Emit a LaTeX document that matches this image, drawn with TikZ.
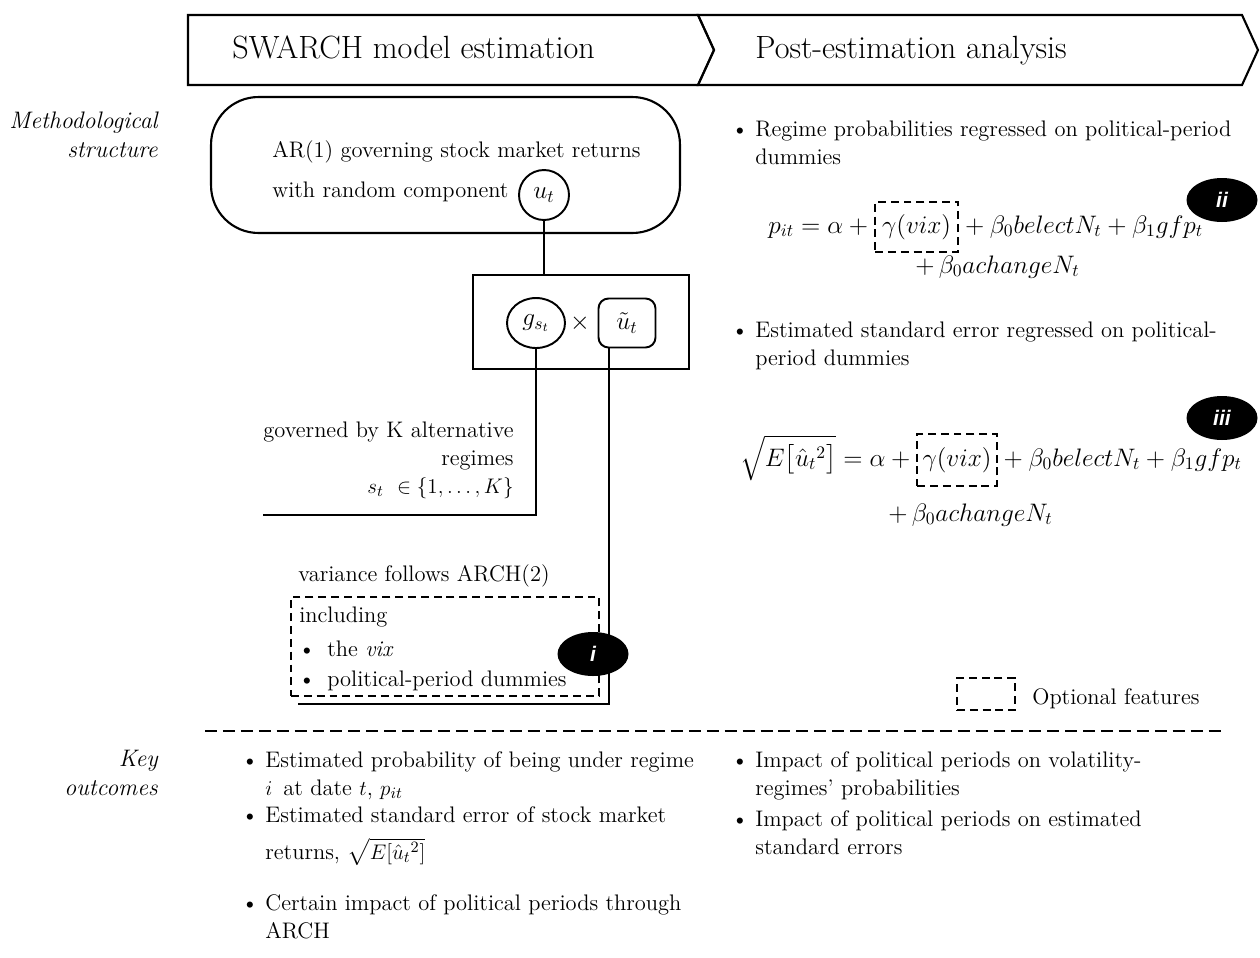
\documentclass[tikz,border=0pt]{standalone}
\usepackage{amsmath,amssymb}
\usepackage{fontspec}
\newfontfamily\badgefont{Liberation Sans}
\usepackage{tikz}
\usetikzlibrary{shapes,positioning}
\newcommand{\bodysize}{\fontsize{12.8}{15.9}\selectfont}
\newcommand{\eqsize}{\fontsize{14}{16}\selectfont}
\tikzstyle{none}=[inner sep=0pt]
\tikzstyle{banner}=[-,line width=1.200]
\tikzstyle{title}=[inner sep=0pt,anchor=base west,font=\fontsize{18.3}{22}\selectfont]
\tikzstyle{sidelabel}=[inner sep=0pt,anchor=base east,align=right,font=\fontsize{13.6}{16.5}\selectfont\itshape]
\tikzstyle{body}=[inner sep=0pt,anchor=base west,align=left,font=\bodysize]
\tikzstyle{bodyright}=[inner sep=0pt,anchor=base east,align=right,font=\bodysize]
\tikzstyle{eq}=[inner sep=0pt,anchor=base west,font=\eqsize]
\tikzstyle{stadium}=[rectangle,rounded corners=0.95cm,draw=black,line width=1.200,minimum width=9.38cm,minimum height=2.72cm]
\tikzstyle{product}=[rectangle,draw=black,line width=1.200,minimum width=4.32cm,minimum height=1.88cm]
\tikzstyle{shock}=[circle,draw=black,line width=1.100,minimum size=1.0cm,inner sep=0pt,font=\eqsize]
\tikzstyle{regime}=[ellipse,draw=black,line width=1.100,inner sep=0pt,minimum width=1.16cm,minimum height=1.0cm,font=\eqsize]
\tikzstyle{innov}=[rectangle,rounded corners=0.2cm,draw=black,line width=1.100,minimum width=1.14cm,minimum height=0.98cm,font=\eqsize]
\tikzstyle{optional}=[rectangle,draw=black,line width=1.100,dash pattern=on 4.5pt off 2.8pt]
\tikzstyle{badge}=[ellipse,fill=black,minimum width=1.42cm,minimum height=0.88cm,text=white,font=\badgefont\bfseries\itshape\fontsize{12}{14}\selectfont]
\tikzstyle{link}=[-,line width=1.100]
\tikzstyle{wire}=[-,line width=0.800]
\tikzstyle{divider}=[-,line width=1.000,dash pattern=on 6.8pt off 3.4pt]
\pgfdeclarelayer{edgelayer}
\pgfdeclarelayer{nodelayer}
\pgfsetlayers{edgelayer,nodelayer,main}
\begin{document}
\begin{tikzpicture}[x=0.02cm,y=-0.02cm]
	\useasboundingbox (0,0) rectangle (1260,957);
	\begin{pgfonlayer}{nodelayer}
		% banners
		\draw [style=banner] (188,15) -- (698,15) -- (714,50) -- (698,85) -- (188,85) -- cycle;
		\draw [style=banner] (698,15) -- (1242,15) -- (1258,50) -- (1242,85) -- (698,85) -- (714,50) -- cycle;
		\node [style=title] (est) at (232,58) {SWARCH model estimation};
		\node [style=title] (post) at (755,58) {Post-estimation analysis};

		\node [style=sidelabel] (method) at (158,157) {Methodological\\structure};
		\node [style=sidelabel] (key) at (158,795) {Key\\outcomes};

		% SWARCH side
		\node [style=stadium] (ar) at (445.5,165) {};
		\node [style=body] (artext) at (272,157) {AR(1) governing stock market returns};
		\node [style=body] (artextb) at (272,197) {with random component};
		\node [style=shock] (shock) at (544,195) {$u_t$};
		\node [style=product] (product) at (581,322) {};
		\node [style=regime] (regime) at (536,323) {$g_{s_t}$};
		\node [style=none,font=\eqsize] (times) at (580,323) {$\times$};
		\node [style=innov] (innov) at (627,323) {$\tilde{u}_t$};

		\node [style=bodyright] (gov) at (514,493) {governed by K alternative\\regimes\\$s_t\ \in\{1,\dots,K\}$};
		\coordinate (govend) at (263,515);

		\node [style=body] (arch) at (298,581) {variance follows ARCH(2)};
		\node [style=optional,minimum width=6.16cm,minimum height=1.98cm] (incl) at (445,646.5) {};
		\node [style=body] (incltext) at (299,622) {including};
		\node [style=body] (b1) at (298,656) {\textbullet};
		\node [style=body] (vix) at (327,656) {the \textit{vix}};
		\node [style=body] (b2) at (298,686) {\textbullet};
		\node [style=body] (dums) at (327,686) {political-period dummies};
		\coordinate (archend) at (298,704);
		\node [style=badge] (bi) at (593,654) {i};

		% post-estimation side
		\node [style=body] (b3) at (731,136) {\textbullet};
		\node [style=body] (probreg) at (755,164) {Regime probabilities regressed on political-period\\dummies};
		\node [style=eq] (eqa) at (768,233) {$p_{it} = \alpha +{}$};
		\node [style=optional,anchor=base west,inner xsep=4pt,minimum height=1.0cm,font=\eqsize] (eqabox) at (eqa.base east) {$\gamma(vix)$};
		\node [style=eq] (eqb) at (eqabox.base east) {${}+ \beta_0 belectN_t + \beta_1 gfp_t$};
		\node [style=eq] (eqc) at (915,273) {$+\,\beta_0 achangeN_t$};
		\node [style=badge] (bii) at (1222,200) {ii};

		\node [style=body] (b4) at (731,337) {\textbullet};
		\node [style=body] (sereg) at (755,365) {Estimated standard error regressed on political-\\period dummies};
		\node [style=eq] (eqd) at (740,466) {$\sqrt{E\bigl[\hat{u}_t{}^2\bigr]} = \alpha +{}$};
		\node [style=optional,anchor=base west,inner xsep=3pt,minimum height=1.04cm,font=\eqsize] (eqdbox) at (eqd.base east) {$\gamma(vix)$};
		\node [style=eq] (eqe) at (eqdbox.base east) {${}+ \beta_0 belectN_t + \beta_1 gfp_t$};
		\node [style=eq] (eqf) at (888,521) {$+\,\beta_0 achangeN_t$};
		\node [style=badge] (biii) at (1222,418) {iii};

		% legend
		\node [style=optional,minimum width=1.16cm,minimum height=0.64cm] (legbox) at (986,694) {};
		\node [style=body] (legtext) at (1032,704) {Optional features};
		\coordinate (divl) at (205,731);
		\coordinate (divr) at (1222,731);

		% key outcomes
		\node [style=body] (b5) at (241,767) {\textbullet};
		\node [style=body] (outa) at (265,795) {Estimated probability of being under regime\\$i$\, at date $t$, $p_{it}$};
		\node [style=body] (b6) at (241,822) {\textbullet};
		\node [style=body] (outb) at (265,822) {Estimated standard error of stock market};
		\node [style=body] (outbb) at (265,859) {returns, $\sqrt{E[\hat{u}_t{}^2]}$};
		\node [style=body] (b7) at (241,910) {\textbullet};
		\node [style=body] (outc) at (265,938) {Certain impact of political periods through\\ARCH};
		\node [style=body] (b8) at (731,767) {\textbullet};
		\node [style=body] (outd) at (755,795) {Impact of political periods on volatility-\\regimes' probabilities};
		\node [style=body] (b9) at (731,826) {\textbullet};
		\node [style=body] (oute) at (755,854) {Impact of political periods on estimated\\standard errors};
	\end{pgfonlayer}
	\begin{pgfonlayer}{edgelayer}
		\draw [style=link] (shock) to (shock |- product.north);
		\draw [style=wire] (regime) |- (govend);
		\draw [style=wire] ([xshift=-0.36cm]innov.south) |- (archend);
		\draw [style=divider] (divl) to (divr);
	\end{pgfonlayer}
\end{tikzpicture}
\end{document}
